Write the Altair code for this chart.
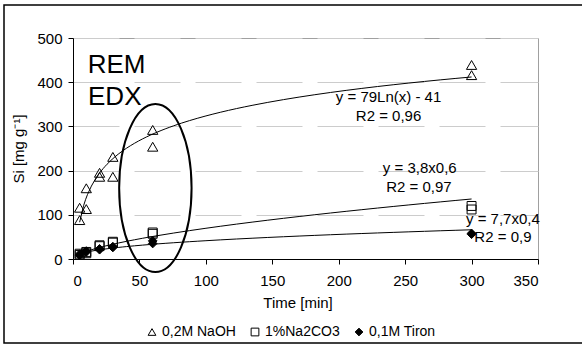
import altair as alt
import pandas as pd

FONT = "Liberation Sans"

# ---- data ----
series_names = ["0,2M NaOH", "1%Na2CO3", "0,1M Tiron"]
time_min = [5, 5, 10, 10, 20, 20, 30, 30, 60, 60, 300, 300]
naoh_si = [88, 116, 113, 160, 195, 186, 231, 186, 292, 254, 439, 416]
na2co3_si = [9, 12, 13, 16, 29, 31, 37, 39, 57, 60, 112, 120]
tiron_si = [8, 11, 16, 18, 21, 23, 26, 28, 35, 41, 56, 58]

x_ticks = [0, 50, 100, 150, 200, 250, 300, 350]
y_ticks = [0, 100, 200, 300, 400, 500]

# annotations (text, time, Si)
eq_text = ["y = 79Ln(x) - 41", "R2 = 0,96", "y = 3,8x0,6", "R2 = 0,97", "y = 7,7x0,4", "R2 = 0,9"]
eq_t = [237.5, 237.5, 261.0, 260.4, 323.6, 323.6]
eq_si = [356, 312, 195, 152, 79, 39]

big_text = ["REM", "EDX"]
big_t = [11.1, 11.3]
big_si = [421, 348]

ellipse_t = [62.0]
ellipse_si = [160.5]

rows = []
for name, vals in zip(series_names, [naoh_si, na2co3_si, tiron_si]):
    for t, v in zip(time_min, vals):
        rows.append({"series": name, "t": t, "si": v})
df = pd.DataFrame(rows)

eq_df = pd.DataFrame({"text": eq_text, "t": eq_t, "si": eq_si})
big_df = pd.DataFrame({"text": big_text, "t": big_t, "si": big_si})
ell_df = pd.DataFrame({"t": ellipse_t, "si": ellipse_si})

x_scale = alt.Scale(domain=[0, 350], nice=False, zero=False)
y_scale = alt.Scale(domain=[0, 500], nice=False)

x_axis = alt.Axis(values=x_ticks, grid=False, domainColor="black", tickColor="black",
                  tickSize=5, labelFontSize=15, labelFont=FONT, labelColor="black",
                  labelPadding=9, titleFontSize=15, titleFont=FONT, titleFontWeight="normal",
                  titleColor="black", titleX=224.5, titleY=48, titleBaseline="alphabetic")
y_axis = alt.Axis(values=y_ticks, grid=True, gridColor="#cccccc", gridDash=[46, 15],
                  domainColor="black", tickColor="black", tickSize=5, labelFontSize=15,
                  labelFont=FONT, labelColor="black", labelPadding=6, titleFontSize=15,
                  titleFont=FONT, titleFontWeight="normal", titleColor="black",
                  titleAngle=270, titleX=-55, titleY=110.5, titleBaseline="middle",
                  titleAlign="center")

legend = alt.Legend(title=None, orient="none", legendX=72, legendY=287, direction="horizontal",
                    labelFontSize=14, labelFont=FONT, labelColor="black", symbolSize=60,
                    symbolStrokeColor="black", symbolStrokeWidth=1, columnPadding=12,
                    labelOffset=3, padding=0)

shape_scale = alt.Scale(domain=series_names, range=["triangle-up", "square", "diamond"])
fill_scale = alt.Scale(domain=series_names, range=["transparent", "transparent", "black"])
stroke_scale = alt.Scale(domain=series_names, range=["black", "black", "black"])
marker_sizes = [105, 80, 75]

base = alt.Chart(df)

frame = alt.Chart(alt.Data(values=[{}])).mark_rect(
    fill="transparent", stroke="black", strokeWidth=1.5
).encode(x=alt.value(-69), x2=alt.value(520), y=alt.value(-33), y2=alt.value(305))


def trend(name, method):
    return base.transform_filter(alt.datum.series == name).transform_regression(
        "t", "si", method=method, extent=[5, 300]
    ).mark_line(color="black", strokeWidth=1).encode(
        x=alt.X("t:Q", scale=x_scale), y=alt.Y("si:Q", scale=y_scale)
    )


point_layers = []
for i, (name, msize) in enumerate(zip(series_names, marker_sizes)):
    if i == 0:
        xe = alt.X("t:Q", scale=x_scale, axis=x_axis, title="Time [min]")
        ye = alt.Y("si:Q", scale=y_scale, axis=y_axis, title="Si [mg g⁻¹]")
    else:
        xe = alt.X("t:Q", scale=x_scale)
        ye = alt.Y("si:Q", scale=y_scale)
    point_layers.append(
        base.transform_filter(alt.datum.series == name).mark_point(
            filled=True, strokeWidth=1, opacity=1, size=msize
        ).encode(
            x=xe, y=ye,
            shape=alt.Shape("series:N", scale=shape_scale, legend=legend),
            fill=alt.Fill("series:N", scale=fill_scale, legend=legend),
            stroke=alt.Stroke("series:N", scale=stroke_scale, legend=legend),
        )
    )

ELLIPSE = ("M0,-1C0.238,-1 0.431,-0.552 0.431,0C0.431,0.552 0.238,1 0,1"
           "C-0.238,1 -0.431,0.552 -0.431,0C-0.431,-0.552 -0.238,-1 0,-1Z")
ellipse = alt.Chart(ell_df).mark_point(
    shape=ELLIPSE, size=28224, filled=False, stroke="black", strokeWidth=2, opacity=1
).encode(x=alt.X("t:Q", scale=x_scale), y=alt.Y("si:Q", scale=y_scale))

eq_labels = alt.Chart(eq_df).mark_text(
    font=FONT, fontSize=15, color="black", align="center", baseline="alphabetic"
).encode(x=alt.X("t:Q", scale=x_scale), y=alt.Y("si:Q", scale=y_scale), text="text:N")

big_labels = alt.Chart(big_df).mark_text(
    font=FONT, fontSize=26, color="black", align="left", baseline="alphabetic"
).encode(x=alt.X("t:Q", scale=x_scale), y=alt.Y("si:Q", scale=y_scale), text="text:N")

chart = alt.layer(
    frame,
    trend("0,2M NaOH", "log"),
    trend("1%Na2CO3", "pow"),
    trend("0,1M Tiron", "pow"),
    *point_layers,
    ellipse,
    eq_labels,
    big_labels,
).properties(
    width=465, height=221,
    autosize=alt.AutoSizeParams(type="none"),
    padding={"left": 73, "top": 38, "right": 44, "bottom": 88},
    background="white",
).configure_view(stroke="#a0a0a0", strokeWidth=1)

chart.save("out.html", embed_options={"renderer": "svg", "actions": False})
